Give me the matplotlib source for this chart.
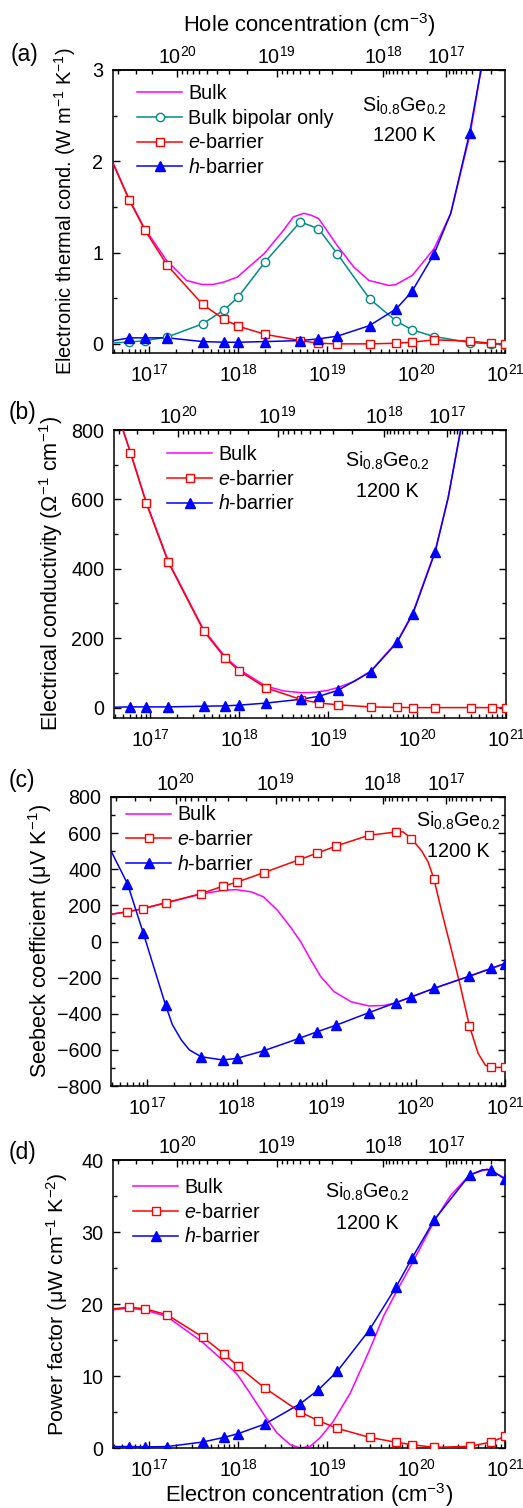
import numpy as np
import matplotlib
matplotlib.use('Agg')
import matplotlib.pyplot as plt
from matplotlib.ticker import MultipleLocator, LogLocator, NullFormatter, FixedLocator

plt.rcParams['font.family'] = ['Liberation Sans', 'DejaVu Sans']
plt.rcParams['mathtext.fontset'] = 'custom'
plt.rcParams['mathtext.rm'] = 'Liberation Sans'
plt.rcParams['mathtext.it'] = 'Liberation Sans:italic'
plt.rcParams['mathtext.bf'] = 'Liberation Sans:bold'
plt.rcParams['mathtext.default'] = 'regular'
FS = 14.2       # ticks, legend, notes
FS_X = 15.8     # x axis titles
FS_P = 16.5     # panel letters
plt.rcParams['font.size'] = FS

# ---------------- data ----------------
# electron concentrations (cm^-3) where markers are drawn
n_mark = [6e16, 9e16, 1.6e17, 4e17, 7e17, 1e18, 2e18, 5e18, 8e18, 1.3e19,
          3e19, 6e19, 9e19, 1.6e20, 4e20, 7e20, 1e21]
nan = np.nan

# tick values
n_ticks = [1e17, 1e18, 1e19, 1e20, 1e21]
p_ticks = [1e17, 1e18, 1e19, 1e20]

# (a) electronic thermal conductivity (W m^-1 K^-1)
a_bulk_logn = [16.594, 16.763, 16.94, 17.195, 17.42, 17.59, 17.72, 17.842, 17.992,
               18.293, 18.51, 18.62, 18.737, 18.82, 18.906, 19.113, 19.30, 19.47,
               19.695, 19.77, 19.958, 20.203, 20.39, 20.609, 20.73, 20.80]
a_bulk = [1.987, 1.61, 1.28, 0.915, 0.695, 0.651, 0.651, 0.677, 0.732,
          0.988, 1.244, 1.39, 1.43, 1.41, 1.372, 1.079, 0.842, 0.695,
          0.64, 0.648, 0.75, 1.043, 1.427, 2.305, 3.0, 3.6]
a_bip = [0.02, 0.035, 0.075, 0.22, 0.373, 0.512, 0.896, 1.336, 1.262, 0.988,
         0.494, 0.249, 0.154, 0.08, 0.015, 0.0, -0.01]
a_e = [1.573, 1.244, 0.86, 0.432, 0.267, 0.194, 0.105, 0.036, 0.007, 0.0,
       0.0, 0.007, 0.018, 0.044, 0.03, 0.007, -0.005]
a_h = [0.066, 0.066, 0.066, 0.025, 0.018, 0.018, 0.025, 0.036, 0.055, 0.084,
       0.2, 0.384, 0.574, 0.988, 2.31, nan, nan]
a_bip_xlogn, a_bip_x = [16.594], [0.01]
a_e_xlogn, a_e_x = [16.594], [1.976]
a_h_xlogn, a_h_x = [16.594, 20.39, 20.73, 20.80], [0.035, 1.43, 3.0, 3.6]

# (b) electrical conductivity (Ohm^-1 cm^-1)
b_bulk_logn = [16.594, 16.695, 16.778, 16.954, 17.204, 17.602, 17.845, 18.0, 18.3,
               18.5, 18.7, 18.85, 19.0, 19.114, 19.3, 19.477, 19.778, 19.954,
               20.204, 20.35, 20.49, 20.6]
b_bulk = [960, 800, 737, 594, 422, 224, 146, 110, 62,
          48, 43, 44, 50, 58, 76, 105, 191, 274,
          452, 605, 800, 1000]
b_e = [735, 591, 419, 221, 142, 106, 57, 23, 13, 8, 2, 0.5, 0, 0, 0, 0, 0]
b_h = [2, 2, 2, 4, 5, 7, 13, 24, 33, 50, 103, 189, 271, 449, nan, nan, nan]
b_e_xlogn, b_e_x = [16.594, 16.695], [960, 800]
b_h_xlogn, b_h_x = [16.594, 20.35, 20.49, 20.6], [1, 605, 800, 1000]

# (c) Seebeck coefficient (uV K^-1)
c_bulk_logn = [16.594, 16.77, 16.95, 17.19, 17.6, 17.84, 17.99, 18.16, 18.3,
               18.455, 18.6, 18.716, 18.83, 18.94, 19.09, 19.28, 19.48, 19.65,
               19.78, 19.96, 20.2, 20.6, 21.0]
c_bulk = [151, 164, 182, 212, 262, 283, 287, 275, 247,
          173, 81, -2, -103, -195, -278, -334, -357, -354,
          -339, -306, -260, -192, -122]
c_e = [164, 182, 214, 265, 306, 328, 381, 453, 490, 529, 588, 606, 570, 348,
       -468, -697, -697]
c_h = [320, 48, -352, -638, -656, -647, -605, -536, -499, -463, -394, -339,
       -306, -260, -192, -149, -122]
c_e_xlogn = [16.594, 19.86, 20.07, 20.14, 20.3, 20.4, 20.5, 20.7, 20.78]
c_e_x = [151, 607, 500, 440, 150, -45, -245, -620, -685]
c_h_xlogn, c_h_x = [16.594, 17.28, 17.38, 17.47], [501, -460, -545, -600]

# (d) power factor (uW cm^-1 K^-2)
d_bulk_logn = [16.594, 16.763, 16.94, 17.195, 17.59, 17.842, 17.992, 18.135, 18.293,
               18.436, 18.586, 18.70, 18.81, 18.92, 19.07, 19.26, 19.47, 19.635,
               19.77, 19.958, 20.2, 20.39, 20.6, 20.8, 21.0]
d_bulk = [19.2, 19.4, 19.2, 18.3, 14.8, 12.0, 10.2, 7.6, 4.6,
          2.1, 0.46, 0.0, 0.23, 1.4, 3.7, 7.6, 13.4, 18.3,
          21.5, 25.7, 31.4, 35.1, 37.9, 38.75, 37.5]
d_e = [19.56, 19.33, 18.5, 15.4, 13.04, 11.33, 8.32, 4.99, 3.79, 2.73, 1.48,
       0.79, 0.46, 0.09, 0.23, 0.83, 1.6]
d_h = [0.2, 0.15, 0.2, 0.83, 1.48, 1.99, 3.33, 6.15, 8.09, 10.64, 16.42,
       22.43, 26.36, 31.68, 37.92, 38.61, 37.32]
d_e_xlogn, d_e_x = [16.594], [19.33]
d_h_xlogn, d_h_x = [16.594, 20.75], [0.2, 38.65]

# hole concentration (top axis) vs electron concentration (bottom axis), log10 values
map_logn = [16.594, 16.858, 17.316, 18.436, 19.631, 20.342, 21.0]
map_logp = [20.64, 20.477, 20.0, 19.0, 18.0, 17.0, 16.09]

# ---------------- styles ----------------
C_BULK = '#ff00ff'
C_BIP = '#008b8b'
C_E = '#ff0000'
C_H = '#0000ff'
LW = 1.1
W, H = 523, 1508
XMIN, XMAX = 10 ** 16.594, 1e21


def _ext_interp(x, xp, fp):
    x = np.asarray(x, dtype=float)
    xp = np.asarray(xp, dtype=float)
    fp = np.asarray(fp, dtype=float)
    with np.errstate(all='ignore'):
        y = np.interp(x, xp, fp)
        s0 = (fp[1] - fp[0]) / (xp[1] - xp[0])
        s1 = (fp[-1] - fp[-2]) / (xp[-1] - xp[-2])
        y = np.where(x < xp[0], fp[0] + (x - xp[0]) * s0, y)
        y = np.where(x > xp[-1], fp[-1] + (x - xp[-1]) * s1, y)
    return y


def n_to_p(n):
    with np.errstate(all='ignore'):
        return 10 ** _ext_interp(np.log10(np.asarray(n, dtype=float)), map_logn, map_logp)


def p_to_n(p):
    with np.errstate(all='ignore'):
        return 10 ** _ext_interp(np.log10(np.asarray(p, dtype=float)),
                                 map_logp[::-1], map_logn[::-1])


def line_pts(marks, xlogn, xvals):
    n = list(n_mark) + [10 ** v for v in xlogn]
    y = list(marks) + list(xvals)
    pts = sorted((a, b) for a, b in zip(n, y) if not np.isnan(b))
    return [p[0] for p in pts], [p[1] for p in pts]


def make_ax(l, t, r, b):
    return fig.add_axes([l / W, 1 - b / H, (r - l) / W, (b - t) / H])


def style_ax(ax, ylim, major, minor, top_label=False, bottom_label=None):
    ax.set_xscale('log')
    ax.set_xlim(XMIN, XMAX)
    ax.set_ylim(*ylim)
    ax.xaxis.set_major_locator(FixedLocator(n_ticks))
    ax.xaxis.set_minor_locator(LogLocator(base=10, subs=np.arange(2, 10), numticks=100))
    ax.xaxis.set_minor_formatter(NullFormatter())
    ax.yaxis.set_major_locator(MultipleLocator(major))
    ax.yaxis.set_minor_locator(MultipleLocator(minor))
    ax.tick_params(axis='x', which='both', direction='in', top=False, bottom=True,
                   labelsize=FS, pad=8)
    ax.tick_params(axis='y', which='both', direction='in', left=True, right=True,
                   labelsize=FS, pad=7)
    ax.tick_params(which='major', length=5, width=1.0)
    ax.tick_params(which='minor', length=2.6, width=1.0)
    for s in ax.spines.values():
        s.set_linewidth(1.1)
    sec = ax.secondary_xaxis('top', functions=(n_to_p, p_to_n))
    sec.xaxis.set_major_locator(FixedLocator(p_ticks))
    sec.xaxis.set_minor_locator(LogLocator(base=10, subs=np.arange(2, 10), numticks=100))
    sec.xaxis.set_minor_formatter(NullFormatter())
    sec.tick_params(axis='x', which='both', direction='in', labelsize=FS, pad=1.5)
    sec.tick_params(which='major', length=5, width=1.0)
    sec.tick_params(which='minor', length=2.6, width=1.0)
    sec.spines['top'].set_linewidth(1.1)
    if top_label:
        sec.set_xlabel('Hole concentration (cm$^{-3}$)', fontsize=FS_X, labelpad=10)
    if bottom_label:
        ax.set_xlabel(bottom_label, fontsize=FS_X, labelpad=0)
    return sec


def draw(ax, marks, xlogn, xvals, color, marker, ms, filled, label):
    xs, ys = line_pts(marks, xlogn, xvals)
    ax.plot(xs, ys, '-', color=color, lw=LW, zorder=3)
    mfc = color if filled else 'white'
    ax.plot(n_mark, marks, ls='none', marker=marker, ms=ms, mfc=mfc, mec=color,
            mew=1.0, zorder=4)
    return plt.Line2D([], [], color=color, lw=LW, marker=marker, ms=ms, mfc=mfc,
                      mec=color, mew=1.0, label=label)


def legend(ax, handles, x_px, y_px):
    fx = x_px / W
    fy = 1 - y_px / H
    ax.legend(handles=handles, loc='upper left', bbox_to_anchor=(fx, fy),
              bbox_transform=fig.transFigure, frameon=False, fontsize=FS,
              handlelength=2.3, handletextpad=0.3, labelspacing=0.29,
              borderpad=0, borderaxespad=0, numpoints=1)


def note(ax, x, y1, y2):
    ax.text(x, y1, 'Si$_{0.8}$Ge$_{0.2}$', transform=ax.transAxes, ha='center',
            va='center', fontsize=FS)
    ax.text(x, y2, '1200 K', transform=ax.transAxes, ha='center', va='center',
            fontsize=FS)


fig = plt.figure(figsize=(W / 100, H / 100), dpi=100)
E_LAB = '$\\mathit{e}$-barrier'
H_LAB = '$\\mathit{h}$-barrier'

# ---- (a)
ax = make_ax(113, 70, 505, 353)
style_ax(ax, (-0.1, 3), 1, 0.5, top_label=True)
hb = ax.plot(10 ** np.array(a_bulk_logn), a_bulk, '-', color=C_BULK, lw=LW, zorder=2,
             label='Bulk')[0]
h1 = draw(ax, a_bip, a_bip_xlogn, a_bip_x, C_BIP, 'o', 6.0, False, 'Bulk bipolar only')
h2 = draw(ax, a_e, a_e_xlogn, a_e_x, C_E, 's', 5.6, False, E_LAB)
h3 = draw(ax, a_h, a_h_xlogn, a_h_x, C_H, '^', 6.6, True, H_LAB)
ax.set_ylabel('Electronic thermal cond. (W m$^{-1}$ K$^{-1}$)', fontsize=14.4)
ax.yaxis.set_label_coords(-0.09, 0.5)
legend(ax, [hb, h1, h2, h3], 137, 84)
note(ax, 0.742, 0.875, 0.77)
fig.text(25 / W, 1 - 55 / H, '(a)', ha='center', va='center', fontsize=FS_P)

# ---- (b)
ax = make_ax(114, 430, 506, 718)
style_ax(ax, (-30, 800), 200, 100)
hb = ax.plot(10 ** np.array(b_bulk_logn), b_bulk, '-', color=C_BULK, lw=LW, zorder=2,
             label='Bulk')[0]
h2 = draw(ax, b_e, b_e_xlogn, b_e_x, C_E, 's', 5.6, False, E_LAB)
h3 = draw(ax, b_h, b_h_xlogn, b_h_x, C_H, '^', 6.6, True, H_LAB)
ax.set_ylabel('Electrical conductivity ($\\Omega^{-1}$ cm$^{-1}$)', fontsize=15.6)
ax.yaxis.set_label_coords(-0.125, 0.5)
legend(ax, [hb, h2, h3], 167, 445)
note(ax, 0.696, 0.892, 0.785)
fig.text(23 / W, 1 - 412 / H, '(b)', ha='center', va='center', fontsize=FS_P)

# ---- (c)
ax = make_ax(111, 797, 505, 1086)
style_ax(ax, (-800, 800), 200, 100)
hb = ax.plot(10 ** np.array(c_bulk_logn), c_bulk, '-', color=C_BULK, lw=LW, zorder=2,
             label='Bulk')[0]
h2 = draw(ax, c_e, c_e_xlogn, c_e_x, C_E, 's', 5.6, False, E_LAB)
h3 = draw(ax, c_h, c_h_xlogn, c_h_x, C_H, '^', 6.6, True, H_LAB)
ax.set_ylabel('Seebeck coefficient (\u03bcV K$^{-1}$)', fontsize=15.6)
ax.yaxis.set_label_coords(-0.145, 0.5)
legend(ax, [hb, h2, h3], 126, 805.5)
note(ax, 0.881, 0.916, 0.81)
fig.text(22 / W, 1 - 780 / H, '(c)', ha='center', va='center', fontsize=FS_P)

# ---- (d)
ax = make_ax(113, 1160, 505, 1448)
style_ax(ax, (0, 40), 10, 5, bottom_label='Electron concentration (cm$^{-3}$)')
hb = ax.plot(10 ** np.array(d_bulk_logn), d_bulk, '-', color=C_BULK, lw=LW, zorder=2,
             label='Bulk')[0]
h2 = draw(ax, d_e, d_e_xlogn, d_e_x, C_E, 's', 5.6, False, E_LAB)
h3 = draw(ax, d_h, d_h_xlogn, d_h_x, C_H, '^', 6.6, True, H_LAB)
ax.set_ylabel('Power factor (\u03bcW cm$^{-1}$ K$^{-2}$)', fontsize=15.4)
ax.yaxis.set_label_coords(-0.11, 0.5)
legend(ax, [hb, h2, h3], 133, 1178)
note(ax, 0.648, 0.888, 0.781)
fig.text(22 / W, 1 - 1152 / H, '(d)', ha='center', va='center', fontsize=FS_P)

fig.savefig('out.png', dpi=100)
